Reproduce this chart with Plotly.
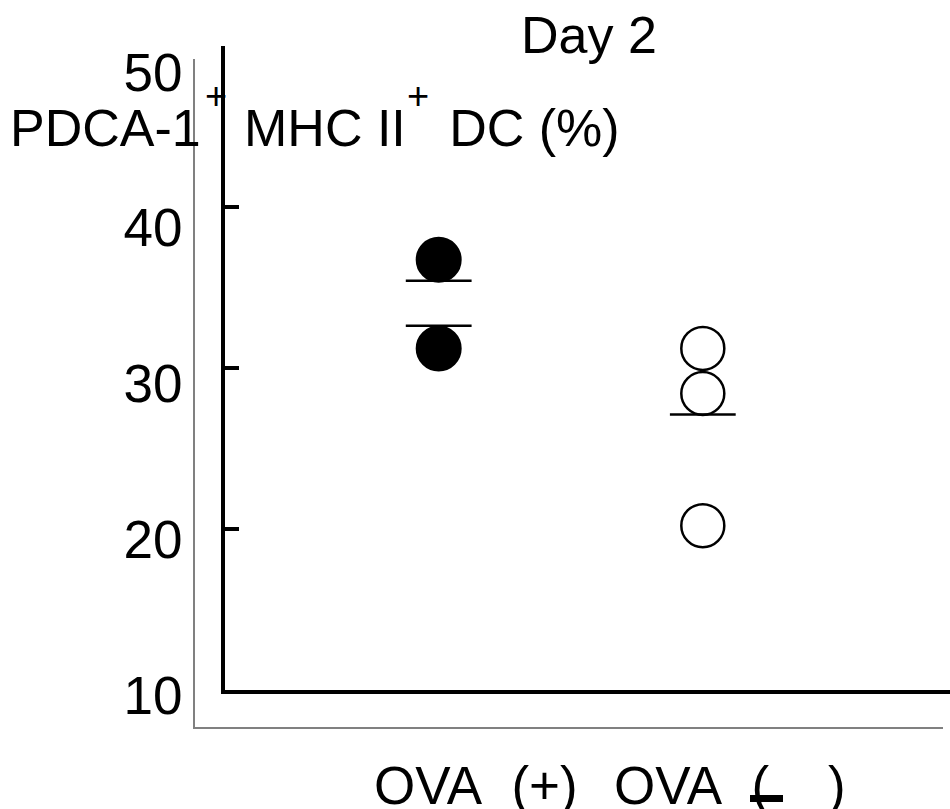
import plotly.graph_objects as go

# ---- data ----
categories = ["OVA (+)", "OVA (−)"]
ova_plus = [36.7, 31.2]
ova_minus = [31.2, 28.4, 20.2]
ova_plus_bars = [35.4, 32.6]
ova_minus_bars = [27.1]
y_tick_values = [10, 20, 30, 40, 50]
x_labels = ["OVA\u00a0\u00a0(+)", "OVA\u00a0\u00a0(\u00a0\u00a0\u00a0\u00a0)"]
title_text = "Day 2"
y_title = "PDCA-1\u00a0\u00a0\u00a0MHC II\u00a0\u00a0\u00a0DC (%)"

W, H = 950, 809
FONT = "Arial, Liberation Sans, Arimo, sans-serif"
FS = 52


def px(v):
    return v / W


def py(v):
    return (H - v) / H


fig = go.Figure()

fig.add_trace(go.Scatter(
    x=[categories[0]] * len(ova_plus), y=ova_plus, mode="markers",
    marker=dict(size=44, color="black", line=dict(color="black", width=2)),
    xaxis="x", yaxis="y", showlegend=False))
fig.add_trace(go.Scatter(
    x=[categories[1]] * len(ova_minus), y=ova_minus, mode="markers",
    marker=dict(size=43, color="white", line=dict(color="black", width=2.5)),
    xaxis="x", yaxis="y", showlegend=False))
fig.add_trace(go.Scatter(
    x=[categories[0]] * len(ova_plus_bars), y=ova_plus_bars, mode="markers",
    marker=dict(symbol="line-ew", size=47, line=dict(color="black", width=2.5)),
    xaxis="x", yaxis="y", showlegend=False))
fig.add_trace(go.Scatter(
    x=[categories[1]] * len(ova_minus_bars), y=ova_minus_bars, mode="markers",
    marker=dict(symbol="line-ew", size=47, line=dict(color="black", width=2.5)),
    xaxis="x", yaxis="y", showlegend=False))

# invisible trace for the gray frame subplot
fig.add_trace(go.Scatter(x=[None], y=[None], xaxis="x2", yaxis="y2",
                         showlegend=False, hoverinfo="skip"))

fig.update_layout(
    width=W, height=H,
    margin=dict(l=0, r=0, t=0, b=0, autoexpand=False),
    paper_bgcolor="white", plot_bgcolor="rgba(0,0,0,0)",
    font=dict(family=FONT, size=FS, color="black"),
    xaxis=dict(domain=[px(224.5), 1], anchor="y", type="category",
               categoryorder="array", categoryarray=categories,
               range=[-0.811, 1.936], showline=True, linecolor="black",
               linewidth=4, showticklabels=False, ticks="", showgrid=False,
               zeroline=False),
    yaxis=dict(domain=[py(690), py(45.5)], anchor="x", range=[10, 50],
               tickvals=y_tick_values, showticklabels=False, ticks="inside",
               ticklen=14, tickwidth=3.5, tickcolor="black", showline=True,
               linecolor="black", linewidth=4, showgrid=False, zeroline=False),
    xaxis2=dict(domain=[px(195), px(943)], anchor="y2", range=[0, 1],
                showline=True, linecolor="#808080", linewidth=1.7,
                showticklabels=False, ticks="", showgrid=False, zeroline=False),
    yaxis2=dict(domain=[py(727), py(59)], anchor="x2", range=[7.945, 50.835],
                tickvals=y_tick_values, ticks="", showline=True,
                linecolor="#808080", linewidth=1.7, showgrid=False,
                zeroline=False, ticklabelstandoff=0,
                tickfont=dict(family=FONT, size=53, color="black")),
)

annotations = [
    dict(text=title_text, x=px(589), y=py(35), xref="paper", yref="paper",
         xanchor="center", yanchor="middle", showarrow=False,
         font=dict(family=FONT, size=FS)),
    dict(text=y_title, x=px(8), y=py(128), xref="paper", yref="paper",
         xanchor="left", yanchor="middle", showarrow=False,
         font=dict(family=FONT, size=FS)),
    dict(text="+", x=px(216), y=py(96), xref="paper", yref="paper",
         xanchor="center", yanchor="middle", showarrow=False,
         font=dict(family=FONT, size=38)),
    dict(text="+", x=px(417.5), y=py(96), xref="paper", yref="paper",
         xanchor="center", yanchor="middle", showarrow=False,
         font=dict(family=FONT, size=38)),
    dict(text=x_labels[0], x=px(476), y=py(785), xref="paper", yref="paper",
         xanchor="center", yanchor="middle", showarrow=False,
         font=dict(family=FONT, size=53)),
    dict(text=x_labels[1], x=px(730), y=py(785), xref="paper", yref="paper",
         xanchor="center", yanchor="middle", showarrow=False,
         font=dict(family=FONT, size=53)),
]
fig.update_layout(annotations=annotations)

fig.add_shape(type="rect", xref="paper", yref="paper",
              x0=px(750), x1=px(783), y0=py(802), y1=py(795),
              fillcolor="black", line=dict(width=0))

fig.write_html("out.html",
               config={"displayModeBar": False},
               post_script="document.body.style.margin='0';"
                           "document.body.style.overflow='hidden';")
